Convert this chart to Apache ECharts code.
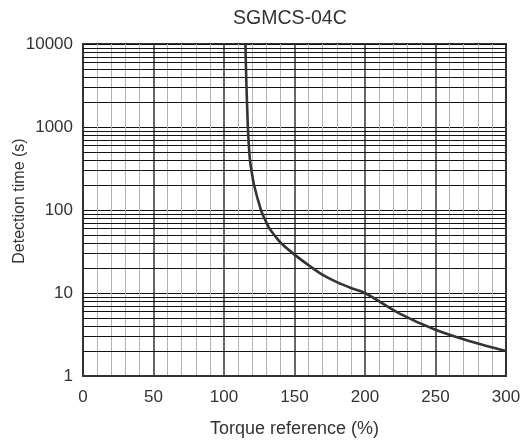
<!DOCTYPE html>
<html>
<head>
<meta charset="utf-8">
<script src="https://cdn.jsdelivr.net/npm/echarts@6/dist/echarts.min.js"></script>
<style>html,body{margin:0;padding:0;background:#fff;}#c{width:522px;height:440px;}</style>
</head>
<body>
<div id="c"></div>
<script>
var title = 'SGMCS-04C';
var xName = 'Torque reference (%)';
var yName = 'Detection time (s)';
var torque = [115.2, 115.6, 116.3, 117.2, 118.4, 119.5, 121.3, 126.2, 128.6, 132.2, 135.7, 140.4, 150, 161, 170, 180, 190, 200, 225, 250, 275, 300];
var detTime = [10000, 5000, 2000, 800, 400, 300, 200, 100, 80, 60, 50, 40, 29, 21, 16.5, 13.5, 11.5, 10, 5.6, 3.6, 2.6, 2.0];
var minorY = [2,3,4,5,6,7,8,9,20,30,40,50,60,70,80,90,200,300,400,500,600,700,800,900,2000,3000,4000,5000,6000,7000,8000,9000];

var font = 'Liberation Sans, Arial, sans-serif';
var chart = echarts.init(document.getElementById('c'));
chart.setOption({
  animation: false,
  backgroundColor: '#fff',
  title: {
    text: title, left: 228, top: 4,
    textStyle: {fontFamily: font, fontSize: 19.5, fontWeight: 'normal', color: '#333'}
  },
  grid: {left: 83, right: 16, top: 44, bottom: 64, containLabel: false, outerBoundsMode: 'none',
         show: true, borderColor: '#333', borderWidth: 2, backgroundColor: 'transparent'},
  xAxis: {
    type: 'value', min: 0, max: 300, interval: 50,
    name: xName, nameLocation: 'middle', nameGap: 44, nameMoveOverlap: false,
    nameTextStyle: {fontFamily: font, fontSize: 18, color: '#333'},
    axisLine: {show: true, lineStyle: {color: '#333', width: 2}},
    axisTick: {show: false},
    minorTick: {show: false, splitNumber: 5},
    axisLabel: {fontFamily: font, fontSize: 17, color: '#333', margin: 13},
    splitLine: {show: true, lineStyle: {color: '#333', width: 1.5}},
    minorSplitLine: {show: true, lineStyle: {color: '#b4b4b4', width: 1}}
  },
  yAxis: {
    type: 'log', logBase: 10, min: 1, max: 10000,
    name: yName, nameLocation: 'middle', nameGap: 55, nameRotate: 90, nameMoveOverlap: false,
    nameTextStyle: {fontFamily: font, fontSize: 16, color: '#333', padding: [0, 0, 0, 18]},
    axisLine: {show: true, lineStyle: {color: '#333', width: 2}},
    axisTick: {show: false},
    axisLabel: {fontFamily: font, fontSize: 17, color: '#333', margin: 10,
                formatter: function (v) { return String(Math.round(v)); }},
    splitLine: {show: true, lineStyle: {color: '#111', width: 1.2}}
  },
  series: [{
    type: 'line',
    data: torque.map(function (t, i) { return [t, detTime[i]]; }),
    smooth: 0.3,
    showSymbol: false,
    lineStyle: {color: '#333', width: 2.6},
    markLine: {
      silent: true, symbol: 'none', animation: false,
      label: {show: false},
      lineStyle: {color: '#111', width: 1, type: 'solid'},
      data: minorY.map(function (v) { return {yAxis: v}; })
    },
    z: 5
  }]
});
</script>
</body>
</html>
